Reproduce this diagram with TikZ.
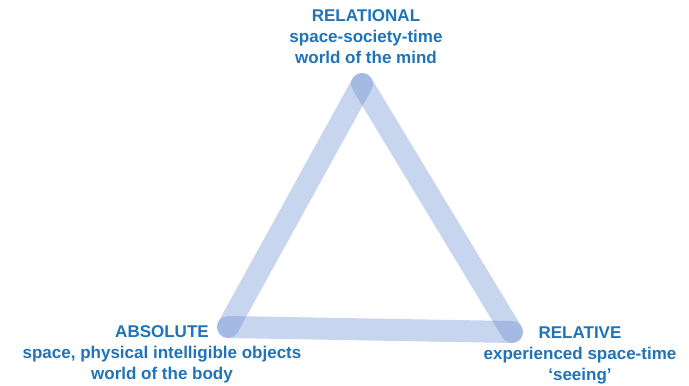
\documentclass[tikz,border=0pt]{standalone}
\usepackage{fontspec}
\setmainfont{Liberation Sans}
\definecolor{bartone}{RGB}{102,138,208}
\definecolor{labeltone}{RGB}{31,115,183}
\begin{document}
\begin{tikzpicture}[x=1pt,y=-1pt]
\tikzset{bar/.style={line width=22pt, line cap=round, draw=bartone, draw opacity=0.36},
  corner/.style={align=center, text=labeltone, font=\fontsize{17}{21}\selectfont\bfseries, inner sep=0pt}}
\useasboundingbox (0,0) rectangle (689,386);
\coordinate (vtop) at (362,84);
\coordinate (vleft) at (228,327);
\coordinate (vright) at (512,332);
\draw[bar] (vtop) -- (vleft);
\draw[bar] (vleft) -- (vright);
\draw[bar] (vright) -- (vtop);
\node[corner] (relational) at (366,37) {RELATIONAL\\space-society-time\\world of the mind};
\node[corner] (absolute) at (162,354) {ABSOLUTE\\space, physical intelligible objects\\world of the body};
\node[corner] (relative) at (580,355) {RELATIVE\\experienced space-time\\`seeing'};
\end{tikzpicture}
\end{document}
